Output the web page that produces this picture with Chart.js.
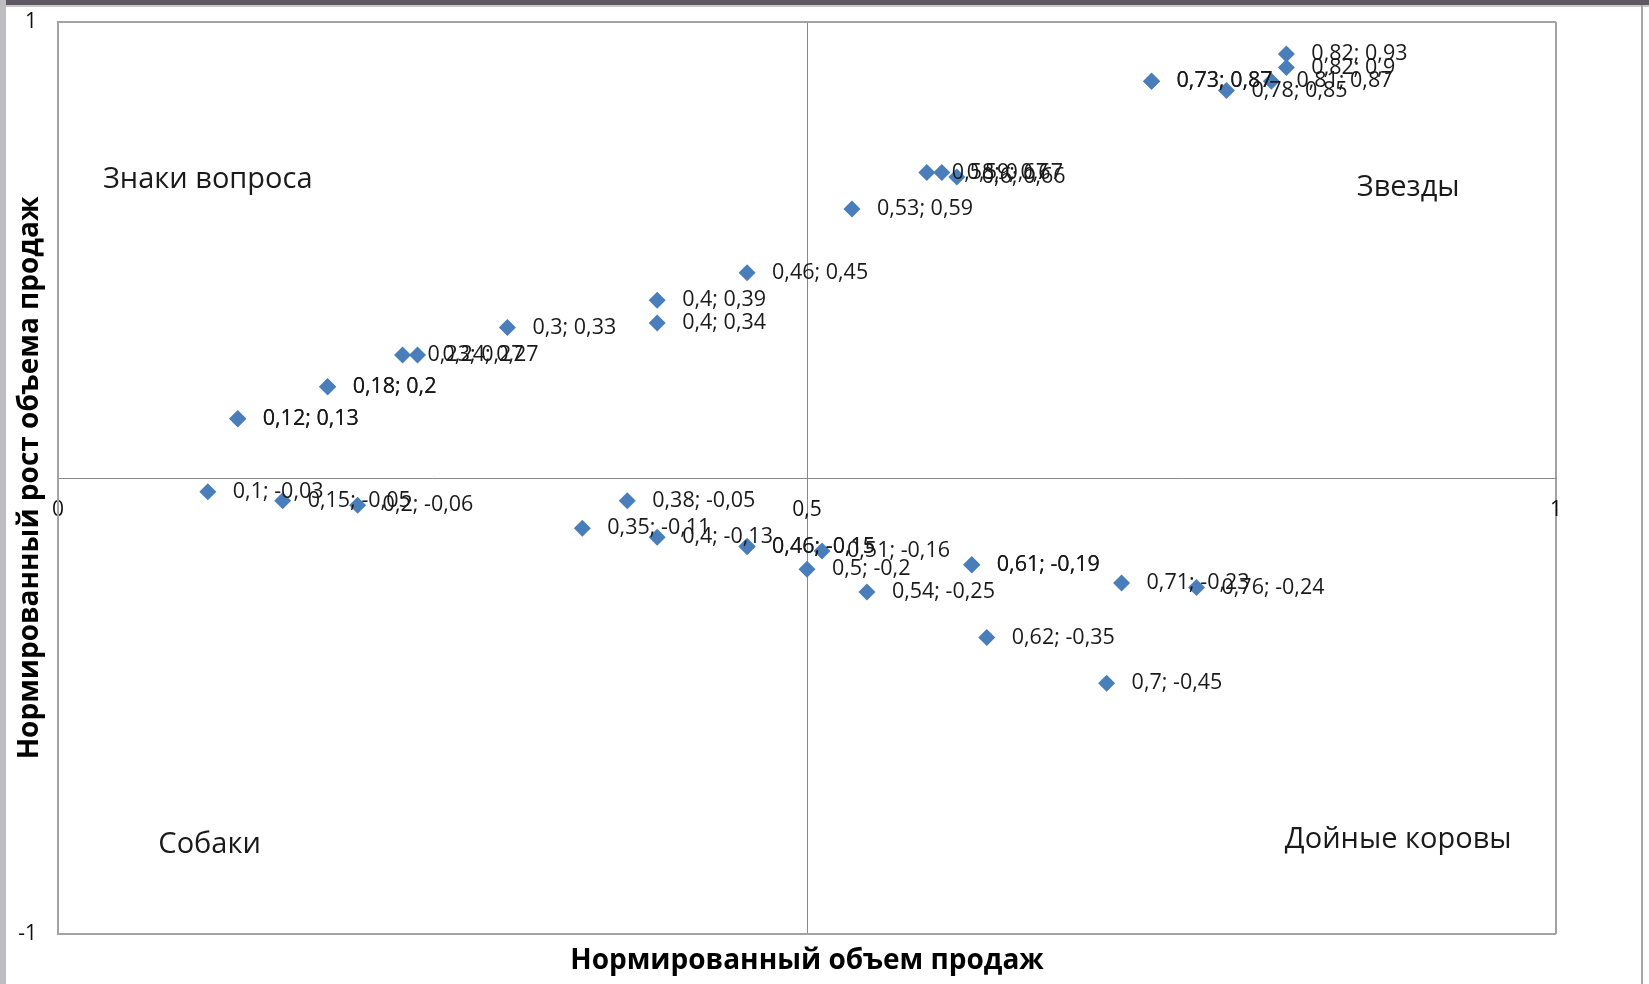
<!DOCTYPE html>
<html>
<head>
<meta charset="utf-8">
<title>Нормированный объем продаж</title>
<script src="https://cdn.jsdelivr.net/npm/chart.js@4.4.0/dist/chart.umd.min.js"></script>
<style>
    body {
        margin: 0;
        padding: 0;
        background-color: #ffffff;
    }
    .frame {
        position: relative;
        width: 1649px;
        height: 984px;
        overflow: hidden;
    }
    .edge {
        position: absolute;
        pointer-events: none;
    }
</style>
<script>
    // значения
    var salesVolume = [0.82, 0.82, 0.73, 0.73, 0.81, 0.78, 0.58, 0.59, 0.6, 0.53, 0.46, 0.4, 0.4, 0.3, 0.23, 0.24, 0.18, 0.18, 0.12, 0.12,
                       0.1, 0.15, 0.2, 0.38, 0.35, 0.4, 0.46, 0.46, 0.51, 0.5, 0.54, 0.61, 0.61, 0.71, 0.76, 0.62, 0.7];
    var salesGrowth = [0.93, 0.9, 0.87, 0.87, 0.87, 0.85, 0.67, 0.67, 0.66, 0.59, 0.45, 0.39, 0.34, 0.33, 0.27, 0.27, 0.2, 0.2, 0.13, 0.13,
                       -0.03, -0.05, -0.06, -0.05, -0.11, -0.13, -0.15, -0.15, -0.16, -0.2, -0.25, -0.19, -0.19, -0.23, -0.24, -0.35, -0.45];

    var quadrantNames = ["Знаки вопроса", "Звезды", "Собаки", "Дойные коровы"];
    var quadrantX = [0.03, 0.867, 0.067, 0.819];
    var quadrantY = [0.655, 0.636, -0.804, -0.793];

    var xTicks = [0, 0.5, 1];
    var yTicks = [-1, 1];
    var xAxisTitle = "Нормированный объем продаж";
    var yAxisTitle = "Нормированный рост объема продаж";

    function fmt(v) {
        return String(v).replace(".", ",");
    }
</script>
</head>
<body>
<div class="frame">
    <canvas id="bcgChart" width="1649" height="984"></canvas>
    <div class="edge" style="left:0; top:0; width:1649px; height:5px; background:#5d5862;"></div>
    <div class="edge" style="left:0; top:5px; width:1649px; height:2px; background:#c8c8cc;"></div>
    <div class="edge" style="left:0; top:0; width:6px; height:984px; background:#bdbdc2;"></div>
    <div class="edge" style="left:1641px; top:5px; width:2px; height:979px; background:#a8a8a8;"></div>
</div>
<script>
    // подписи точек и названия квадрантов
    var textPlugin = {
        id: "textPlugin",
        afterDatasetsDraw: function(chart) {
            var ctx = chart.ctx;
            var meta = chart.getDatasetMeta(0);
            var xs = chart.scales.x;
            var ys = chart.scales.y;
            ctx.save();
            ctx.fillStyle = "#1a1a1a";
            ctx.textAlign = "left";
            ctx.textBaseline = "middle";
            ctx.font = '21.5px "Open Sans"';
            meta.data.forEach(function(pt, i) {
                ctx.fillText(fmt(salesVolume[i]) + "; " + fmt(salesGrowth[i]), pt.x + 25, pt.y);
            });
            ctx.font = '29px "Open Sans"';
            for (var i = 0; i < quadrantNames.length; i++) {
                ctx.fillText(quadrantNames[i], xs.getPixelForValue(quadrantX[i]), ys.getPixelForValue(quadrantY[i]));
            }
            ctx.restore();
        }
    };

    var points = salesVolume.map(function(v, i) {
        return { x: v, y: salesGrowth[i] };
    });

    var ctx = document.getElementById("bcgChart").getContext("2d");
    var bcgChart = new Chart(ctx, {
        type: "scatter",
        data: {
            datasets: [{
                data: points,
                pointStyle: "rectRot",
                pointRadius: 8.5,
                pointBackgroundColor: "#4a7ebb",
                pointBorderColor: "#4a7ebb",
                pointBorderWidth: 0
            }]
        },
        options: {
            responsive: false,
            animation: false,
            layout: { padding: { left: 8, top: 22, right: 93, bottom: 0 } },
            plugins: {
                legend: { display: false },
                tooltip: { enabled: false }
            },
            scales: {
                x: {
                    type: "linear",
                    min: 0,
                    max: 1,
                    position: { y: 0 },
                    afterBuildTicks: function(scale) {
                        scale.ticks = xTicks.map(function(v) { return { value: v }; });
                    },
                    ticks: {
                        padding: 19,
                        color: "#111111",
                        font: { family: "Open Sans", size: 21 },
                        callback: function(v) { return fmt(v); }
                    },
                    grid: {
                        drawTicks: false,
                        color: function(c) { return c.tick && c.tick.value === 0.5 ? "#8a8a8a" : "#a3a3a3"; },
                        lineWidth: function(c) { return c.tick && c.tick.value === 0.5 ? 1 : 2; }
                    },
                    border: { display: true, color: "#8a8a8a", width: 1 }
                },
                xTitle: {
                    type: "linear",
                    axis: "x",
                    min: 0,
                    max: 1,
                    position: "bottom",
                    ticks: { display: false },
                    grid: { display: false },
                    border: { display: false },
                    title: {
                        display: true,
                        text: xAxisTitle,
                        color: "#000000",
                        font: { family: "Open Sans", size: 28, weight: "bold" },
                        padding: { top: 0, bottom: 6 }
                    },
                    afterFit: function(scale) { scale.height = 50; }
                },
                y: {
                    type: "linear",
                    min: -1,
                    max: 1,
                    position: "left",
                    afterBuildTicks: function(scale) {
                        scale.ticks = yTicks.map(function(v) { return { value: v }; });
                    },
                    ticks: {
                        padding: 21,
                        color: "#111111",
                        font: { family: "Open Sans", size: 21 },
                        callback: function(v) { return fmt(v); }
                    },
                    grid: { drawTicks: false, color: "#a3a3a3", lineWidth: 2 },
                    border: { display: true, color: "#a3a3a3", width: 2 },
                    title: {
                        display: true,
                        text: yAxisTitle,
                        color: "#000000",
                        font: { family: "Open Sans", size: 28, weight: "bold" },
                        padding: { top: 5, bottom: 0 }
                    },
                    afterFit: function(scale) {
                        scale.width = 50;
                        scale.paddingTop = 12;
                        scale.paddingBottom = 12;
                    }
                }
            }
        },
        plugins: [textPlugin]
    });
</script>
</body>
</html>
